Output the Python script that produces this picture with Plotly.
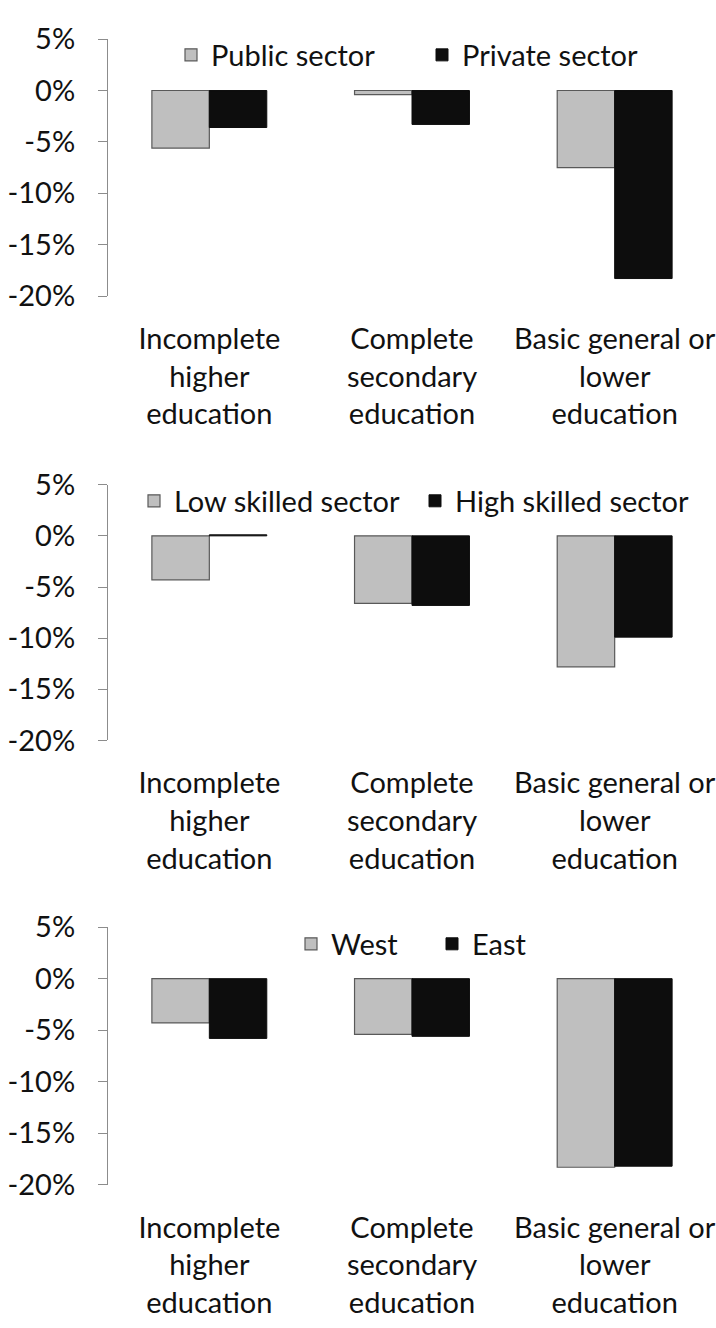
import plotly.graph_objects as go

# ---------------- data ----------------
categories = [
    "Incomplete<br>higher<br>education",
    "Complete<br>secondary<br>education",
    "Basic general or<br>lower<br>education",
]
public_sector = [-5.6, -0.4, -7.5]
private_sector = [-3.6, -3.3, -18.3]
low_skilled_sector = [-4.3, -6.6, -12.8]
high_skilled_sector = [0.1, -6.8, -9.9]
west = [-4.3, -5.4, -18.3]
east = [-5.8, -5.6, -18.2]

series_names = [
    ("Public sector", "Private sector"),
    ("Low skilled sector", "High skilled sector"),
    ("West", "East"),
]
y_tick_values = [5, 0, -5, -10, -15, -20]
y_tick_labels = ["5%", "0%", "-5%", "-10%", "-15%", "-20%"]
y_range = [-20, 5]
boundary_ticks = [-0.5, 0.5, 1.5, 2.5]

# ---------------- style / layout ----------------
W, H = 716, 1328
FONT = "Lato"
FS = 29
GRAY = "#BFBFBF"
GRAY_EDGE = "#595959"
BLACK = "#0D0D0D"
AXIS = "#8C8C8C"
TEXT = "#111111"

x0 = 108 / W
panel_px = [(20.7, 284.5), (478.3, 741.0), (932.7, 1197.3)]   # (top, bottom) in px
legend_cy = [37, 495, 950]
legend_left = [171, 134, 291]
legend_entry = [206, 236, 96]

panels = [
    (public_sector, private_sector),
    (low_skilled_sector, high_skilled_sector),
    (west, east),
]

fig = go.Figure()
layout = dict(
    width=W, height=H,
    margin=dict(l=0, r=0, t=0, b=0),
    paper_bgcolor="white", plot_bgcolor="white",
    barmode="group", bargap=0.433, bargroupgap=0,
    font=dict(family=FONT, size=FS, color=TEXT),
    showlegend=True,
)

for i, ((a, b), (na, nb)) in enumerate(zip(panels, series_names)):
    n = i + 1
    sx = "" if n == 1 else str(n)
    lg = "legend" if n == 1 else f"legend{n}"
    fig.add_trace(go.Bar(
        x=categories, y=a, name=na,
        marker=dict(color=GRAY, line=dict(color=GRAY_EDGE, width=1.2)),
        xaxis="x" + sx, yaxis="y" + sx, legend=lg,
    ))
    fig.add_trace(go.Bar(
        x=categories, y=b, name=nb,
        marker=dict(color=BLACK, line=dict(color=BLACK, width=1)),
        xaxis="x" + sx, yaxis="y" + sx, legend=lg,
    ))
    top, bot = panel_px[i]
    d1 = 1 - top / H
    d0 = 1 - bot / H
    zero_pos = d0 + (0 - y_range[0]) / (y_range[1] - y_range[0]) * (d1 - d0)

    layout["xaxis" + sx] = dict(
        domain=[x0, 1], anchor="y" + sx, type="category",
        range=[-0.5, 2.5], showline=False, ticks="", showgrid=False,
        zeroline=False, tickfont=dict(family=FONT, size=FS, color=TEXT),
        ticklabelstandoff=23,
    )
    layout["yaxis" + sx] = dict(
        domain=[d0, d1], anchor="x" + sx, range=y_range,
        tickvals=y_tick_values, ticktext=y_tick_labels,
        ticks="outside", ticklen=9, tickcolor=AXIS, tickwidth=1,
        showline=True, linecolor=AXIS, linewidth=1,
        showgrid=False, zeroline=False,
        tickfont=dict(family=FONT, size=FS, color=TEXT),
        ticklabelstandoff=17,
    )
    layout[f"xaxis{n + 3}"] = dict(
        domain=[x0, 1], overlaying="x" + sx, anchor="free", position=zero_pos,
        side="bottom", range=[-0.5, 2.5], tickvals=boundary_ticks,
        ticks="outside", ticklen=9, tickcolor=AXIS, tickwidth=1,
        showline=True, linecolor=AXIS, linewidth=1,
        showticklabels=False, showgrid=False, zeroline=False,
    )
    layout[lg] = dict(
        orientation="h", x=legend_left[i] / W, y=1 - legend_cy[i] / H,
        xanchor="left", yanchor="middle",
        entrywidth=legend_entry[i], entrywidthmode="pixels",
        font=dict(family=FONT, size=FS, color=TEXT),
        bgcolor="rgba(0,0,0,0)", borderwidth=0, traceorder="normal",
    )

fig.update_layout(**layout)
fig.write_html(
    "out.html",
    config={"displayModeBar": False},
    post_script="document.body.style.margin='0';document.body.style.overflow='hidden';",
)
